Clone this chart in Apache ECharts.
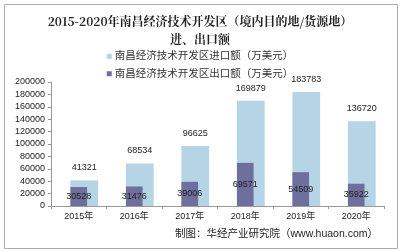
<!DOCTYPE html>
<html>
<head>
<meta charset="utf-8">
<script src="https://cdn.jsdelivr.net/npm/echarts@6/dist/echarts.min.js"></script>
<style>
  html, body { margin: 0; padding: 0; background: #fff; }
  #chart { width: 400px; height: 251px; }
</style>
</head>
<body>
<div id="chart"></div>
<script>
// 年份和进出口额（万美元）
const years = ['2015年', '2016年', '2017年', '2018年', '2019年', '2020年'];
const importValues = [41321, 68534, 96625, 169879, 183783, 136720];
const exportValues = [30528, 31476, 39006, 69571, 54509, 35922];
const importName = '南昌经济技术开发区进口额（万美元）';
const exportName = '南昌经济技术开发区出口额（万美元）';

const myChart = echarts.init(document.getElementById('chart'));
const baseFont = 'Liberation Sans, Arial, "Noto Sans CJK SC", sans-serif';

const option = {
    animation: false,
    title: {
        text: '2015-2020年南昌经济技术开发区（境内目的地/货源地）\n进、出口额',
        left: 'center',
        top: 7,
        textStyle: {
            fontFamily: '"Noto Serif CJK SC", "Noto Sans CJK SC", serif',
            fontSize: 12,
            fontWeight: 'bold',
            color: '#222',
            lineHeight: 18
        }
    },
    legend: {
        orient: 'vertical',
        left: 'center',
        top: 46,
        itemWidth: 5,
        itemHeight: 5,
        itemGap: 7,
        icon: 'rect',
        textStyle: { fontFamily: baseFont, fontSize: 10.5, color: '#333', padding: [0, 0, 0, -2] },
        data: [importName, exportName]
    },
    grid: { left: 51, right: 16, top: 82, bottom: 45 },
    xAxis: {
        type: 'category',
        data: years,
        axisLine: { lineStyle: { color: '#999' } },
        axisTick: { show: true, length: 3, lineStyle: { color: '#999' } },
        axisLabel: { fontFamily: baseFont, fontSize: 9, color: '#222', margin: 6 }
    },
    yAxis: {
        type: 'value',
        min: 0,
        max: 200000,
        interval: 20000,
        axisLine: { show: true, lineStyle: { color: '#999' } },
        axisTick: { show: true, length: 3, lineStyle: { color: '#999' } },
        splitLine: { show: false },
        axisLabel: {
            fontFamily: baseFont, fontSize: 9, color: '#222', margin: 6,
            formatter: v => String(v)
        }
    },
    series: [
        {
            name: importName,
            type: 'bar',
            data: importValues,
            barWidth: '50%',
            barGap: '-100%',
            itemStyle: { color: '#b5d4e6' },
            label: {
                show: true,
                position: 'top',
                distance: 8,
                fontFamily: baseFont,
                fontSize: 9,
                color: '#222'
            }
        },
        {
            name: exportName,
            type: 'bar',
            data: exportValues,
            barWidth: '30%',
            itemStyle: { color: '#6e6f9d' },
            label: {
                show: true,
                position: 'inside',
                fontFamily: baseFont,
                fontSize: 9,
                color: '#222'
            }
        }
    ],
    graphic: [
        {
            type: 'rect',
            left: 2, top: 2,
            shape: { width: 393, height: 244 },
            style: { fill: 'none', stroke: '#aaa', lineWidth: 1 }
        },
        {
            type: 'text',
            right: 22,
            top: 229,
            style: {
                text: '制图：华经产业研究院（www.huaon.com）',
                font: '10.5px Liberation Sans, "Noto Sans CJK SC", sans-serif',
                fill: '#222'
            }
        }
    ]
};
myChart.setOption(option);
</script>
</body>
</html>
